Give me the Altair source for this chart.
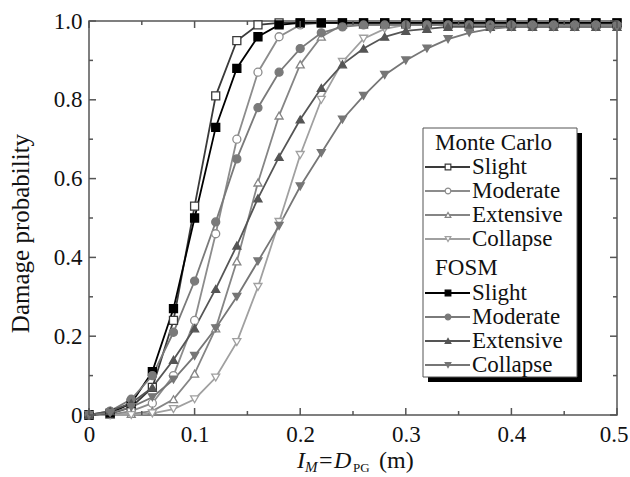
import altair as alt
import pandas as pd

# Peak ground displacement (m)
pgd = [0.00, 0.02, 0.04, 0.06, 0.08, 0.10, 0.12, 0.14, 0.16, 0.18, 0.20, 0.22, 0.24,
       0.26, 0.28, 0.30, 0.32, 0.34, 0.36, 0.38, 0.40, 0.42, 0.44, 0.46, 0.48, 0.50]

# Monte Carlo fragility curves
mc_slight = [0, 0.003, 0.02, 0.07, 0.24, 0.53, 0.81, 0.95, 0.99, 0.995, 0.995, 0.995, 0.995,
             0.995, 0.995, 0.995, 0.995, 0.995, 0.995, 0.995, 0.995, 0.995, 0.995, 0.995, 0.995, 0.995]
mc_moderate = [0, 0.001, 0.01, 0.03, 0.10, 0.24, 0.46, 0.70, 0.87, 0.96, 0.99, 0.995, 0.995,
               0.995, 0.995, 0.995, 0.995, 0.995, 0.995, 0.995, 0.995, 0.995, 0.995, 0.995, 0.995, 0.995]
mc_extensive = [0, 0, 0.003, 0.01, 0.04, 0.105, 0.22, 0.39, 0.59, 0.76, 0.89, 0.96, 0.99,
                0.99, 0.99, 0.99, 0.99, 0.99, 0.99, 0.99, 0.99, 0.99, 0.99, 0.99, 0.99, 0.99]
mc_collapse = [0, 0, 0, 0.004, 0.015, 0.04, 0.095, 0.185, 0.325, 0.49, 0.66, 0.80, 0.896,
               0.955, 0.98, 0.99, 0.99, 0.99, 0.99, 0.99, 0.99, 0.99, 0.99, 0.99, 0.99, 0.99]

# FOSM fragility curves
fosm_slight = [0, 0.005, 0.03, 0.11, 0.27, 0.50, 0.73, 0.88, 0.96, 0.99, 0.995, 0.995, 0.995,
               0.995, 0.995, 0.995, 0.995, 0.995, 0.995, 0.995, 0.995, 0.995, 0.995, 0.995, 0.995, 0.995]
fosm_moderate = [0, 0.01, 0.04, 0.10, 0.21, 0.34, 0.49, 0.65, 0.78, 0.87, 0.93, 0.97, 0.985,
                 0.99, 0.99, 0.99, 0.99, 0.99, 0.99, 0.99, 0.99, 0.99, 0.99, 0.99, 0.99, 0.99]
fosm_extensive = [0, 0.01, 0.03, 0.07, 0.14, 0.22, 0.32, 0.43, 0.55, 0.655, 0.75, 0.83, 0.89,
                  0.93, 0.96, 0.975, 0.98, 0.985, 0.985, 0.985, 0.985, 0.985, 0.985, 0.985, 0.985, 0.985]
fosm_collapse = [0, 0.005, 0.02, 0.045, 0.09, 0.15, 0.22, 0.30, 0.39, 0.48, 0.58, 0.665, 0.75,
                 0.81, 0.863, 0.90, 0.93, 0.954, 0.97, 0.98, 0.985, 0.985, 0.985, 0.985, 0.985, 0.985]

series_names = ["MC Slight", "MC Moderate", "MC Extensive", "MC Collapse",
                "FOSM Slight", "FOSM Moderate", "FOSM Extensive", "FOSM Collapse"]
series_values = [mc_slight, mc_moderate, mc_extensive, mc_collapse,
                 fosm_slight, fosm_moderate, fosm_extensive, fosm_collapse]
line_colors = ["#3a3a3a", "#8c8c8c", "#858585", "#a0a0a0",
               "#000000", "#7a7a7a", "#555555", "#767676"]
fill_colors = ["#ffffff", "#ffffff", "#ffffff", "#ffffff",
               "#000000", "#7a7a7a", "#555555", "#767676"]
shapes = ["square", "circle", "triangle-up", "triangle-down",
          "square", "circle", "triangle-up", "triangle-down"]

legend_groups = ["Monte Carlo", "FOSM"]
legend_states = ["Slight", "Moderate", "Extensive", "Collapse"]

x_major = [0.0, 0.1, 0.2, 0.3, 0.4, 0.5]
x_minor = [0.05, 0.15, 0.25, 0.35, 0.45]
y_major = [0.0, 0.2, 0.4, 0.6, 0.8, 1.0]
y_minor = [0.1, 0.3, 0.5, 0.7, 0.9]

W, H = 528, 394
FONT = "Liberation Serif"

rows = []
for name, vals in zip(series_names, series_values):
    for xv, yv in zip(pgd, vals):
        rows.append({"series": name, "pgd": xv, "p": yv})
df = pd.DataFrame(rows)

xscale = alt.Scale(domain=[0, 0.5], nice=False, zero=False)
yscale = alt.Scale(domain=[0, 1.0], nice=False, zero=False)

label_expr = "datum.value == 0 ? '0' : format(datum.value, '.1f')"
x_enc = alt.X("pgd:Q", scale=xscale, axis=alt.Axis(
    values=x_major, labelExpr=label_expr,
    ticks=False, domain=False, grid=False, title=None, labelFont=FONT,
    labelFontSize=23, labelColor="#111", labelPadding=8, labelFlush=False,
    labelAlign={"condition": {"test": "datum.value >= 0.5", "value": "right"}, "value": "center"},
    labelOffset={"condition": {"test": "datum.value >= 0.5", "value": 11}, "value": 0}))
y_enc = alt.Y("p:Q", scale=yscale, axis=alt.Axis(
    values=y_major, labelExpr=label_expr,
    ticks=False, domain=False, grid=False, title="Damage probability",
    titleFont=FONT, titleFontSize=25, titleFontWeight="normal", titleColor="#111",
    titleX=-69, titleY=212, titleAngle=-90, titleAlign="center", titleBaseline="middle",
    labelFont=FONT, labelFontSize=23, labelColor="#111", labelPadding=7, labelFlush=False))

color_scale = alt.Scale(domain=series_names, range=line_colors)
fill_scale = alt.Scale(domain=series_names, range=fill_colors)
shape_scale = alt.Scale(domain=series_names, range=shapes)

base = alt.Chart(df)
lines = base.mark_line(strokeWidth=1.8).encode(
    x=x_enc, y=y_enc,
    color=alt.Color("series:N", scale=color_scale, legend=None),
    detail="series:N", order="pgd:Q")
points = base.mark_point(filled=True, size=64, strokeWidth=1.3, opacity=1).encode(
    x="pgd:Q", y="p:Q",
    stroke=alt.Stroke("series:N", scale=color_scale, legend=None),
    fill=alt.Fill("series:N", scale=fill_scale, legend=None),
    shape=alt.Shape("series:N", scale=shape_scale, legend=None))

# inward ticks on all four sides
tick_style = dict(color="#555", strokeWidth=1.5)
xt_major = pd.DataFrame({"t": x_major})
xt_minor = pd.DataFrame({"t": x_minor})
yt_major = pd.DataFrame({"t": y_major})
yt_minor = pd.DataFrame({"t": y_minor})

def x_ticks(data, length):
    bottom = alt.Chart(data).mark_rule(**tick_style).encode(
        x=alt.X("t:Q", scale=xscale), y=alt.value(H), y2=alt.value(H - length))
    top = alt.Chart(data).mark_rule(**tick_style).encode(
        x=alt.X("t:Q", scale=xscale), y=alt.value(0), y2=alt.value(length))
    return [bottom, top]

def y_ticks(data, length):
    left = alt.Chart(data).mark_rule(**tick_style).encode(
        y=alt.Y("t:Q", scale=yscale), x=alt.value(0), x2=alt.value(length))
    right = alt.Chart(data).mark_rule(**tick_style).encode(
        y=alt.Y("t:Q", scale=yscale), x=alt.value(W), x2=alt.value(W - length))
    return [left, right]

ticks = x_ticks(xt_major, 7) + x_ticks(xt_minor, 4) + y_ticks(yt_major, 7) + y_ticks(yt_minor, 4)

# legend panel
LX0, LX1, LY0, LY1 = 334, 488, 107, 356
shadow = alt.Chart(pd.DataFrame({"k": [0]})).mark_rect(color="#000").encode(
    x=alt.value(LX0 + 5), x2=alt.value(LX1 + 5), y=alt.value(LY0 + 5), y2=alt.value(LY1 + 5))
panel = alt.Chart(pd.DataFrame({"k": [0]})).mark_rect(
    fill="#fff", stroke="#555", strokeWidth=1).encode(
    x=alt.value(LX0), x2=alt.value(LX1), y=alt.value(LY0), y2=alt.value(LY1))

head_y = [122, 247]
item_y = [146, 170, 194, 218, 272, 296, 320, 344]
legend_layers = [shadow, panel]
for g, hy in zip(legend_groups, head_y):
    legend_layers.append(alt.Chart(pd.DataFrame({"label": [g]})).mark_text(
        font=FONT, fontSize=23, align="left", baseline="middle", color="#111").encode(
        x=alt.value(346), y=alt.value(hy), text="label:N"))
for i, (name, iy) in enumerate(zip(series_names, item_y)):
    state = legend_states[i % 4]
    legend_layers.append(alt.Chart(pd.DataFrame({"k": [0]})).mark_rule(
        color=line_colors[i], strokeWidth=2).encode(
        x=alt.value(336), x2=alt.value(381), y=alt.value(iy)))
    legend_layers.append(alt.Chart(pd.DataFrame({"k": [0]})).mark_point(
        filled=True, size=32, strokeWidth=1.2, shape=shapes[i], fill=fill_colors[i],
        stroke=line_colors[i], opacity=1).encode(x=alt.value(359), y=alt.value(iy)))
    legend_layers.append(alt.Chart(pd.DataFrame({"label": [state]})).mark_text(
        font=FONT, fontSize=23, align="left", baseline="middle", color="#111").encode(
        x=alt.value(383), y=alt.value(iy), text="label:N"))

# x-axis title: I_M = D_PG (m)
def txt(s, x, y, size, style="normal"):
    return alt.Chart(pd.DataFrame({"label": [s]})).mark_text(
        font=FONT, fontSize=size, fontStyle=style, align="left", baseline="alphabetic",
        color="#111").encode(x=alt.value(x), y=alt.value(y), text="label:N")

xtitle = [txt("I", 208, 447, 24, "italic"), txt("M", 216, 451, 15, "italic"),
          txt("=", 230, 447, 24), txt("D", 245, 447, 24, "italic"),
          txt("PG", 264, 451, 13), txt("(m)", 290, 447, 24)]

chart = alt.layer(lines, points, *ticks, *legend_layers, *xtitle).properties(
    width=W, height=H,
    autosize=alt.AutoSizeParams(type="none"),
    padding={"left": 89, "top": 21, "right": 13, "bottom": 62},
).configure(font=FONT).configure_view(stroke="#555", strokeWidth=1.5)

chart.save("out.html", embed_options={"renderer": "svg", "actions": False})
